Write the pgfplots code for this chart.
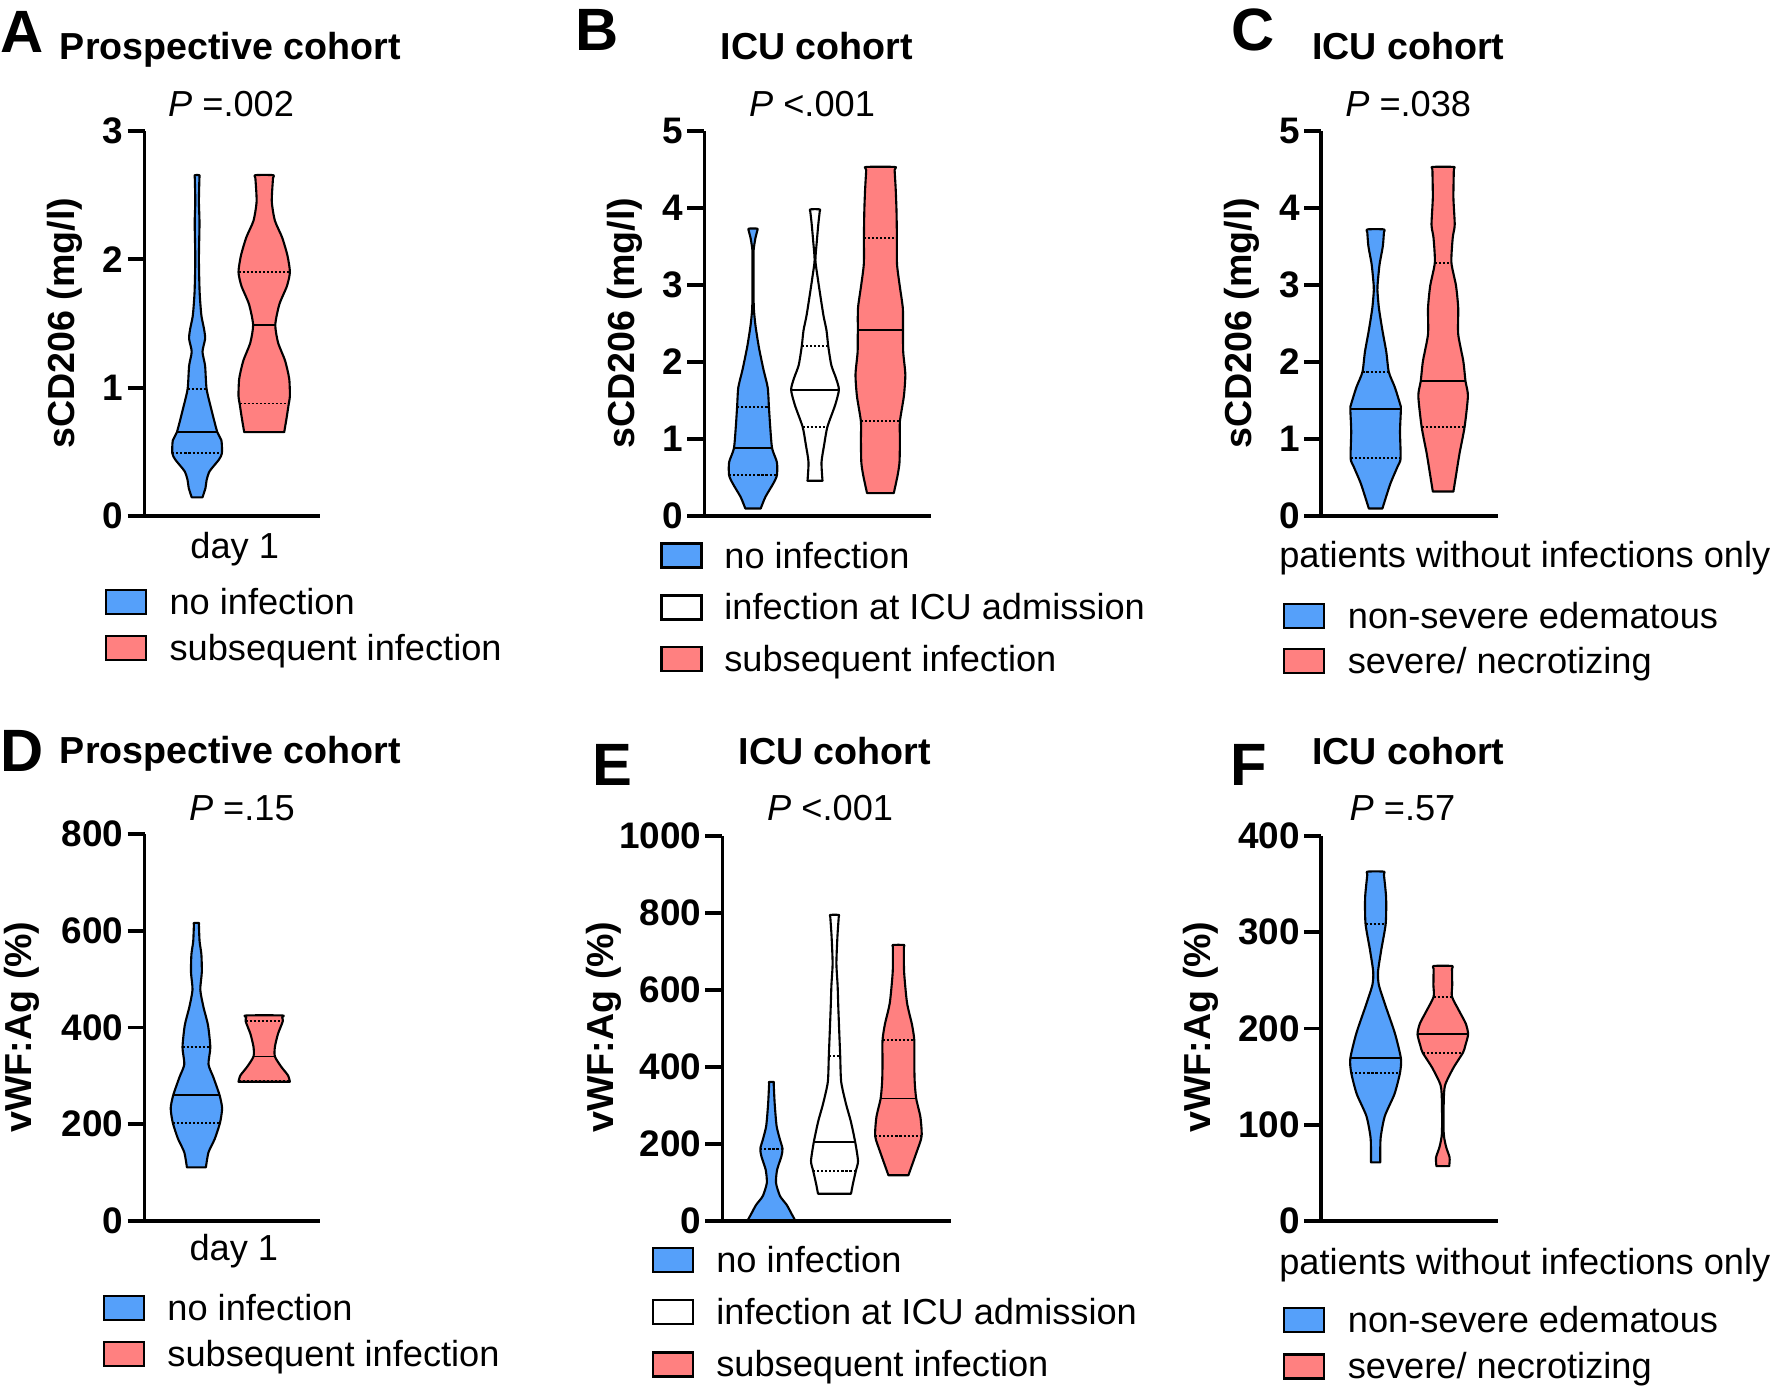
\documentclass[border=0pt]{standalone}
\usepackage{pgfplots}
\pgfplotsset{compat=1.18}
\usepackage{pgfplotstable}
\usepackage{fontspec}
\setmainfont{Liberation Sans}
\definecolor{vblue}{RGB}{85,160,250}
\definecolor{vred}{RGB}{255,128,128}
\newcommand{\fs}{\fontsize{10.3}{12}\selectfont}
\newcommand{\fsb}{\fontsize{10.7}{12}\selectfont\bfseries}

% ---------- violin profiles: y, half width (px) ----------
\pgfplotstableread{
y w
0.147 5.4
0.22 8.4
0.28 9.5
0.35 12.5
0.44 21.8
0.49 24.8
0.59 24.3
0.654 20.2
0.83 14.3
0.99 9.5
1.17 8.0
1.28 5.4
1.38 8.0
1.45 7.1
1.55 4.5
1.62 3.6
1.75 2.5
2.00 1.8
2.28 2.4
2.45 1.8
2.63 2.3
2.654 2.3
}\tAb
\pgfplotstableread{
y w
0.654 20.0
0.76 22.3
0.877 24.6
0.935 25.7
1.07 25.0
1.21 20.9
1.35 13.9
1.49 11.1
1.65 15.2
1.79 22.7
1.90 25.7
2.03 23.2
2.17 17.9
2.30 10.7
2.45 7.6
2.63 8.8
2.654 9.0
}\tAr
\pgfplotstableread{
y w
0.10 7.7
0.25 12.4
0.42 20.1
0.53 23.9
0.70 23.9
0.88 19.1
1.16 17.2
1.42 15.9
1.67 14.7
1.90 10.5
2.19 5.9
2.47 2.5
2.70 0.8
3.00 0.6
3.30 0.6
3.45 0.6
3.60 2.3
3.70 4.2
3.73 4.3
}\tBb
\pgfplotstableread{
y w
0.46 7.5
0.70 6.5
0.93 9.2
1.16 12.4
1.44 20.1
1.64 23.9
1.79 21.0
1.96 16.3
2.21 13.2
2.41 11.5
2.60 8.5
2.89 5.0
3.10 2.6
3.32 0.4
3.55 1.7
3.80 3.4
3.95 4.7
3.98 4.7
}\tBw
\pgfplotstableread{
y w
0.30 13.4
0.53 17.2
0.70 19.1
0.99 19.5
1.23 19.5
1.56 23.5
1.84 24.9
2.13 22.8
2.42 22.6
2.70 22.4
2.99 19.3
3.27 16.6
3.61 16.5
3.96 16.1
4.24 15.3
4.49 14.2
4.53 14.2
}\tBr
\pgfplotstableread{
y w
0.10 6.8
0.42 14.7
0.645 22.0
0.75 25.0
1.10 24.4
1.39 25.3
1.44 24.8
1.67 19.3
1.87 13.2
2.13 10.7
2.41 6.8
2.70 3.3
2.93 1.8
3.04 2.2
3.27 4.0
3.50 7.2
3.68 8.3
3.72 8.3
}\tCb
\pgfplotstableread{
y w
0.32 10.3
0.53 12.9
0.82 16.5
1.16 21.5
1.56 24.8
1.75 22.4
2.01 20.2
2.36 15.1
2.70 15.1
2.99 12.9
3.29 8.3
3.61 9.6
3.78 11.6
4.13 10.3
4.49 10.7
4.53 10.7
}\tCr
\pgfplotstableread{
y w
111 9.5
142 12.1
170 18.4
203 23.6
233 25.7
260 23.2
297 17.0
324 12.1
359 13.9
405 11.6
442 7.1
478 3.9
514 5.4
551 5.0
578 3.2
612 2.5
616 2.5
}\tDb
\pgfplotstableread{
y w
288 25.7
301 23.8
319 17.0
340 10.7
360 10.7
387 13.8
413 18.6
421 17.9
425 17.9
}\tDr
\pgfplotstableread{
y w
2 23.7
19 20.1
42 15.3
65 8.6
99 4.6
133 5.7
168 10.0
188 11.1
213 8.4
247 5.2
304 3.3
356 2.3
361 2.3
}\tEb
\pgfplotstableread{
y w
71 16.5
99 18.6
131 21.4
156 23.5
205 20.7
259 16.3
304 11.5
361 6.7
428 5.7
487 4.8
555 3.8
612 3.1
669 1.9
738 2.9
789 4.2
795 4.2
}\tEw
\pgfplotstableread{
y w
119 10.0
179 18.2
220 23.2
270 22.0
318 17.8
361 16.3
407 15.9
469 15.9
510 13.6
567 8.6
647 5.7
711 5.5
717 5.5
}\tEr
\pgfplotstableread{
y w
61 4.6
86 5.0
109 9.2
132 18.9
154 24.4
169 25.3
195 19.3
223 10.1
245 3.3
259 2.4
282 5.7
309 10.1
336 10.5
360 8.3
363 8.3
}\tFb
\pgfplotstableread{
y w
57 6.4
66 6.8
77 3.3
91 0.9
123 0.9
141 2.2
159 10.5
175 20.2
182 22.4
194 25.3
205 23.0
218 16.5
233 9.2
245 9.4
262 9.2
265 9.2
}\tFr

% build closed outlines: left side upwards (s=-1), right side downwards (s=+1)
\newcommand{\mkoutline}[1]{%
  \pgfplotstablesort[sort key=y, sort cmp=float >]{\tmpdesc}{#1}%
  \pgfplotstablecreatecol[create col/expr={1}]{s}{\tmpdesc}%
  \pgfplotstablecreatecol[create col/expr={-1}]{s}{#1}%
  \pgfplotstablevertcat{#1}{\tmpdesc}%
}
\mkoutline{\tAb}\mkoutline{\tAr}
\mkoutline{\tBb}\mkoutline{\tBw}\mkoutline{\tBr}
\mkoutline{\tCb}\mkoutline{\tCr}
\mkoutline{\tDb}\mkoutline{\tDr}
\mkoutline{\tEb}\mkoutline{\tEw}\mkoutline{\tEr}
\mkoutline{\tFb}\mkoutline{\tFr}

\newcommand{\violin}[3]{%
  \addplot[forget plot, fill=#3, draw=black, line width=0.6pt, line join=round, smooth, tension=0.4]
    table[x expr=#2+\thisrow{s}*\thisrow{w}, y=y] {#1} -- cycle;
}
% quartile (dotted) and median (solid) lines: center, y, half width
\newcommand{\qline}[3]{\addplot[forget plot, black, line width=0.55pt, dash pattern=on 0.6pt off 0.55pt] coordinates {({#1-#3},#2) ({#1+#3},#2)};}
\newcommand{\mline}[3]{\addplot[forget plot, black, line width=0.5pt] coordinates {({#1-#3},#2) ({#1+#3},#2)};}

\pgfplotsset{
  vio/.style={
    scale only axis, axis lines=left, axis line style={-, line width=1.05pt},
    xmin=0, ymin=0, xtick=\empty, clip=false,
    tick align=outside, major tick length=0.17cm,
    tick style={black, line width=1.05pt},
    yticklabel style={font=\fontsize{10.5}{12}\selectfont\bfseries, inner sep=1pt},
    /pgf/number format/assume math mode=true,
    /pgf/number format/1000 sep={},
    scaled y ticks=false,
    anchor=south west,
    legend cell align=left,
    legend image code/.code={\draw[##1, line width=0.7pt] (0cm,-0.12cm) rectangle (0.40cm,0.12cm);},
    legend style={draw=none, fill=none, inner sep=0pt, outer sep=0pt, font=\fs,
      at={(0,0)}, anchor=north west,
      nodes={inner sep=0pt, text height=0.298cm, text depth=0.047cm}},
  },
}

\begin{document}
\begin{tikzpicture}

% ---------------- A ----------------
\begin{axis}[vio, at={(1.446cm,-5.162cm)}, width=1.757cm, height=3.855cm,
  xmax=175.7, ymax=3, ytick={0,1,2,3},
  legend style={xshift=-0.40cm, yshift=-0.684cm, row sep=0.1175cm, column sep=0.225cm}]
\violin{\tAb}{52.5}{vblue}
\violin{\tAr}{119.6}{vred}
\qline{52.5}{0.99}{9.5}\mline{52.5}{0.654}{20.2}\qline{52.5}{0.49}{24.8}
\qline{119.6}{1.90}{25.7}\mline{119.6}{1.49}{11.1}\qline{119.6}{0.877}{24.6}
\addlegendimage{fill=vblue, draw=black}\addlegendentry{no infection}
\addlegendimage{fill=vred, draw=black}\addlegendentry{subsequent infection}
\end{axis}

% ---------------- B ----------------
\begin{axis}[vio, at={(7.044cm,-5.162cm)}, width=2.269cm, height=3.855cm,
  xmax=226.9, ymax=5, ytick={0,1,2,3,4,5},
  legend style={xshift=-0.44cm, yshift=-0.2215cm, row sep=0.172cm, column sep=0.215cm}]
\violin{\tBb}{48.6}{vblue}
\violin{\tBw}{110.6}{white}
\violin{\tBr}{176.0}{vred}
\qline{48.6}{1.42}{15.9}\mline{48.6}{0.88}{19.1}\qline{48.6}{0.53}{23.9}
\qline{110.6}{2.21}{13.2}\mline{110.6}{1.64}{23.9}\qline{110.6}{1.16}{12.4}
\qline{176.0}{3.61}{16.5}\mline{176.0}{2.42}{22.6}\qline{176.0}{1.23}{19.5}
\addlegendimage{fill=vblue, draw=black}\addlegendentry{no infection}
\addlegendimage{fill=white, draw=black}\addlegendentry{infection at ICU admission}
\addlegendimage{fill=vred, draw=black}\addlegendentry{subsequent infection}
\end{axis}

% ---------------- C ----------------
\begin{axis}[vio, at={(13.212cm,-5.162cm)}, width=1.77cm, height=3.855cm,
  xmax=177, ymax=5, ytick={0,1,2,3,4,5},
  legend style={xshift=-0.386cm, yshift=-0.8265cm, row sep=0.105cm, column sep=0.228cm}]
\violin{\tCb}{54.4}{vblue}
\violin{\tCr}{121.9}{vred}
\qline{54.4}{1.87}{13.2}\mline{54.4}{1.39}{25.3}\qline{54.4}{0.75}{25.0}
\qline{121.9}{3.29}{8.3}\mline{121.9}{1.75}{22.4}\qline{121.9}{1.16}{21.5}
\addlegendimage{fill=vblue, draw=black}\addlegendentry{non-severe edematous}
\addlegendimage{fill=vred, draw=black}\addlegendentry{severe/ necrotizing}
\end{axis}

% ---------------- D ----------------
\begin{axis}[vio, at={(1.446cm,-12.21cm)}, width=1.757cm, height=3.87cm,
  xmax=175.7, ymax=800, ytick={0,200,400,600,800},
  legend style={xshift=-0.421cm, yshift=-0.695cm, row sep=0.1155cm, column sep=0.225cm}]
\violin{\tDb}{51.8}{vblue}
\violin{\tDr}{119.6}{vred}
\qline{51.8}{359}{13.9}\mline{51.8}{260}{23.2}\qline{51.8}{203}{23.6}
\qline{119.6}{413}{18.6}\mline{119.6}{340}{10.7}\qline{119.6}{289}{25.7}
\addlegendimage{fill=vblue, draw=black}\addlegendentry{no infection}
\addlegendimage{fill=vred, draw=black}\addlegendentry{subsequent infection}
\end{axis}

% ---------------- E ----------------
\begin{axis}[vio, at={(7.224cm,-12.21cm)}, width=2.281cm, height=3.85cm,
  xmax=228.1, ymax=1000, ytick={0,200,400,600,800,1000},
  legend style={xshift=-0.705cm, yshift=-0.2185cm, row sep=0.176cm, column sep=0.22cm}]
\violin{\tEb}{49.0}{vblue}
\violin{\tEw}{112.1}{white}
\violin{\tEr}{176.0}{vred}
\qline{49.0}{188}{11.1}
\qline{112.1}{428}{5.7}\mline{112.1}{205}{20.7}\qline{112.1}{131}{21.4}
\qline{176.0}{469}{15.9}\mline{176.0}{318}{17.8}\qline{176.0}{220}{23.2}
\addlegendimage{fill=vblue, draw=black}\addlegendentry{no infection}
\addlegendimage{fill=white, draw=black}\addlegendentry{infection at ICU admission}
\addlegendimage{fill=vred, draw=black}\addlegendentry{subsequent infection}
\end{axis}

% ---------------- F ----------------
\begin{axis}[vio, at={(13.212cm,-12.21cm)}, width=1.77cm, height=3.85cm,
  xmax=177, ymax=400, ytick={0,100,200,300,400},
  legend style={xshift=-0.386cm, yshift=-0.8155cm, row sep=0.1205cm, column sep=0.228cm}]
\violin{\tFb}{54.4}{vblue}
\violin{\tFr}{121.6}{vred}
\qline{54.4}{309}{10.1}\mline{54.4}{169}{25.3}\qline{54.4}{154}{24.4}
\qline{121.6}{233}{9.2}\mline{121.6}{194}{25.3}\qline{121.6}{175}{20.2}
\addlegendimage{fill=vblue, draw=black}\addlegendentry{non-severe edematous}
\addlegendimage{fill=vred, draw=black}\addlegendentry{severe/ necrotizing}
\end{axis}

% ---------------- texts ----------------
\begin{scope}[x=0.01cm, y=-0.01cm, every node/.style={inner sep=0pt, outer sep=0pt}]
% panel letters
\node[anchor=base west, font=\fontsize{17}{19}\selectfont\bfseries] at (0,52.8) {A};
\node[anchor=base west, font=\fontsize{17}{19}\selectfont\bfseries] at (576,50.6) {B};
\node[anchor=base west, font=\fontsize{17}{19}\selectfont\bfseries] at (1232,50.6) {C};
\node[anchor=base west, font=\fontsize{17}{19}\selectfont\bfseries] at (0,772.4) {D};
\node[anchor=base west, font=\fontsize{17}{19}\selectfont\bfseries] at (593,785.6) {E};
\node[anchor=base west, font=\fontsize{17}{19}\selectfont\bfseries] at (1231,785.6) {F};
% titles
\node[anchor=base west, font=\fsb] at (60,59.4) {Prospective cohort};
\node[anchor=base west, font=\fsb] at (721,59.4) {ICU cohort};
\node[anchor=base west, font=\fsb] at (1313,59.4) {ICU cohort};
\node[anchor=base west, font=\fsb] at (60,763.6) {Prospective cohort};
\node[anchor=base west, font=\fsb] at (739,764.9) {ICU cohort};
\node[anchor=base west, font=\fsb] at (1313,764.9) {ICU cohort};
% P values
\node[anchor=base, font=\fs] at (231.2,116.6) {\textit{P} =.002};
\node[anchor=base, font=\fs] at (812.5,116.6) {\textit{P} <.001};
\node[anchor=base, font=\fs] at (1409,116.6) {\textit{P} =.038};
\node[anchor=base, font=\fs] at (242,820.7) {\textit{P} =.15};
\node[anchor=base, font=\fs] at (830.6,820.7) {\textit{P} <.001};
\node[anchor=base, font=\fs] at (1403.3,820.7) {\textit{P} =.57};
% x labels
\node[anchor=base, font=\fs] at (234.8,558.9) {day 1};
\node[anchor=base, font=\fs] at (234,1261.7) {day 1};
\node[anchor=base west, font=\fs] at (1280,567.7) {patients without infections only};
\node[anchor=base west, font=\fs] at (1280,1274.8) {patients without infections only};
% y labels
\node[rotate=90, font=\fsb] at (65,323.5) {sCD206 (mg/l)};
\node[rotate=90, font=\fsb] at (625,323.5) {sCD206 (mg/l)};
\node[rotate=90, font=\fsb] at (1243,323.5) {sCD206 (mg/l)};
\node[rotate=90, font=\fsb] at (22.3,1027.5) {vWF:Ag (\%)};
\node[rotate=90, font=\fsb] at (604,1027.5) {vWF:Ag (\%)};
\node[rotate=90, font=\fsb] at (1202,1027.5) {vWF:Ag (\%)};
\end{scope}
\pgfresetboundingbox
\useasboundingbox (0,0) rectangle (17.76cm,-13.88cm);
\end{tikzpicture}
\end{document}
